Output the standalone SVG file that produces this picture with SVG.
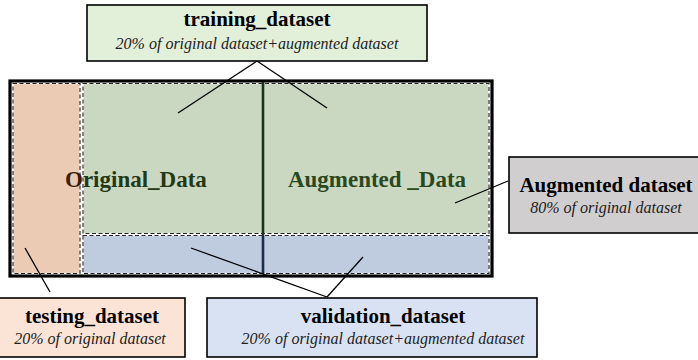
<svg xmlns="http://www.w3.org/2000/svg" width="698" height="360" viewBox="0 0 698 360">
<defs>
<style>
.box{stroke:#000;stroke-width:1.6}
.title{font-family:"Liberation Serif","Times New Roman",serif;font-weight:bold;font-size:21px;fill:#000;text-anchor:middle}
.sub{font-family:"Liberation Serif","Times New Roman",serif;font-style:italic;font-size:16px;fill:#222;text-anchor:middle}
.big{font-family:"Liberation Serif","Times New Roman",serif;font-weight:bold;font-size:23px}
.dashw{fill:none;stroke:#fff;stroke-width:1.2}
.dash{fill:none;stroke:#222;stroke-width:1.1;stroke-dasharray:4 2.5}
.conn{stroke:#000;stroke-width:1.3;fill:none}
</style>
</defs>
<rect width="698" height="360" fill="#fff"/>
<g id="data_block">
<rect x="10" y="81" width="482" height="195" fill="#fff" stroke="#000" stroke-width="3.2"/>
<rect id="test_region" x="13" y="83.5" width="67" height="190" fill="#EBCBB4"/>
<rect x="13" y="83.5" width="67" height="190" class="dashw"/>
<rect x="13" y="83.5" width="67" height="190" class="dash"/>
<rect id="train_region" x="83" y="83.5" width="406" height="150" fill="#CAD8C2"/>
<rect x="83" y="83.5" width="406" height="150" class="dashw"/>
<rect x="83" y="83.5" width="406" height="150" class="dash"/>
<rect id="val_region" x="83" y="235.5" width="406" height="38" fill="#BFCCE0"/>
<rect x="83" y="235.5" width="406" height="38" class="dashw"/>
<rect x="83" y="235.5" width="406" height="38" class="dash"/>
<line x1="263" y1="82" x2="263" y2="235" stroke="#1C321C" stroke-width="2.6"/>
<line x1="263" y1="235" x2="263" y2="274" stroke="#1C2C4A" stroke-width="2.6"/>
<text x="65" y="187" class="big"><tspan fill="#3A1C0A">O</tspan><tspan fill="#223816">riginal_Data</tspan></text>
<text x="377" y="187" class="big" fill="#2A4820" text-anchor="middle">Augmented _Data</text>
</g>
<g id="connectors">
<line class="conn" x1="257" y1="61" x2="178" y2="113"/>
<line class="conn" x1="257" y1="61" x2="327" y2="108"/>
<line class="conn" x1="508" y1="181" x2="455" y2="203"/>
<line class="conn" x1="25" y1="248" x2="50" y2="292"/>
<line class="conn" x1="327" y1="297" x2="191" y2="248"/>
<line class="conn" x1="327" y1="297" x2="363" y2="257"/>
</g>
<g id="training_dataset">
<rect class="box" x="87" y="5" width="340" height="56" fill="#E2EFD9"/>
<text class="title" x="257" y="26">training_dataset</text>
<text class="sub" x="257" y="49">20% of original dataset+augmented dataset</text>
</g>
<g id="augmented_dataset">
<rect class="box" x="509" y="157" width="195" height="76" fill="#D0CECF"/>
<text class="title" x="606" y="192">Augmented dataset</text>
<text class="sub" x="606" y="213">80% of original dataset</text>
</g>
<g id="testing_dataset">
<rect class="box" x="-2" y="298" width="187" height="59" fill="#FBE4D5"/>
<text class="title" x="92" y="323">testing_dataset</text>
<text class="sub" x="90" y="344">20% of original dataset</text>
</g>
<g id="validation_dataset">
<rect class="box" x="207" y="298" width="330" height="59" fill="#D9E2F3"/>
<text class="title" x="383" y="323">validation_dataset</text>
<text class="sub" x="383" y="344">20% of original dataset+augmented dataset</text>
</g>
</svg>
